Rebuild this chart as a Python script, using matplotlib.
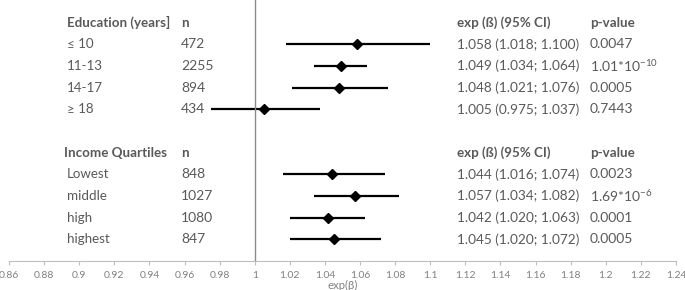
import matplotlib.pyplot as plt

plt.rcParams["font.family"] = ["Lato", "DejaVu Sans"]
plt.rcParams["mathtext.fontset"] = "custom"
plt.rcParams["mathtext.rm"] = "Lato"

# education rows
edu_labels = ["≤ 10", "11-13", "14-17", "≥ 18"]
edu_n = ["472", "2255", "894", "434"]
edu_est = [1.058, 1.049, 1.048, 1.005]
edu_lo = [1.018, 1.034, 1.021, 0.975]
edu_hi = [1.100, 1.064, 1.076, 1.037]
edu_p = ["0.0047", r"1.01*10$^{\mathregular{-10}}$", "0.0005", "0.7443"]

# income rows
inc_labels = ["Lowest", "middle", "high", "highest"]
inc_n = ["848", "1027", "1080", "847"]
inc_est = [1.044, 1.057, 1.042, 1.045]
inc_lo = [1.016, 1.034, 1.020, 1.020]
inc_hi = [1.074, 1.082, 1.063, 1.072]
inc_p = ["0.0023", r"1.69*10$^{\mathregular{-6}}$", "0.0001", "0.0005"]

xticks = [0.86 + 0.02 * i for i in range(20)]

TXT = "#595959"
W, H = 685, 290
X0, X1 = 9, 676  # pixel positions of 0.86 and 1.24
fig = plt.figure(figsize=(W / 100, H / 100), dpi=100)
ax = fig.add_axes([X0 / W, 1 - 261 / H, (X1 - X0) / W, 261 / H])
ax.set_xlim(0.86, 1.24)
ax.set_ylim(11.0, -1.05)


def px2x(px):
    return 0.86 + (px - X0) / (X1 - X0) * 0.38


col_lab, col_n, col_ci, col_p = px2x(67), px2x(181), px2x(457), px2x(590)


def text(x, y, s, bold=False, fs=9.6):
    ax.text(x, y, s, fontsize=fs, color=TXT, va="center", ha="left",
            fontweight="bold" if bold else "normal", clip_on=False)


def block(y0, header, labels, ns, est, lo, hi, pvals, hx):
    text(hx, y0, header, bold=True)
    text(col_n, y0, "n", bold=True)
    text(col_ci, y0, "exp (ß) (95% CI)", bold=True)
    text(col_p, y0, "p-value", bold=True)
    for i in range(len(labels)):
        y = y0 + 1 + i
        text(col_lab, y, labels[i])
        text(col_n, y, ns[i], fs=10)
        text(col_ci, y, f"{est[i]:.3f} ({lo[i]:.3f}; {hi[i]:.3f})", fs=9.8)
        text(col_p, y, pvals[i], fs=10)
        ax.plot([lo[i], hi[i]], [y, y], color="black", lw=1.6, solid_capstyle="butt")
        ax.plot(est[i], y, marker="D", color="black", ms=5)


block(0, "Education (years]", edu_labels, edu_n, edu_est, edu_lo, edu_hi, edu_p, px2x(67))
block(6, "Income Quartiles", inc_labels, inc_n, inc_est, inc_lo, inc_hi, inc_p, px2x(64))

ax.axvline(1.0, color="#8c8c8c", lw=1.0)

for s in ["top", "right", "left"]:
    ax.spines[s].set_visible(False)
ax.spines["bottom"].set_color("#bfbfbf")
ax.set_yticks([])
ax.set_xticks(xticks)
ax.set_xticklabels([f"{t:.2f}".rstrip("0").rstrip(".") for t in xticks])
ax.tick_params(axis="x", colors="#bfbfbf", labelcolor="#808080", labelsize=7.5, length=3, pad=4)
ax.set_xlabel("exp(β)", fontsize=8.2, color="#808080", labelpad=0.5)

fig.savefig("out.png", dpi=100)
